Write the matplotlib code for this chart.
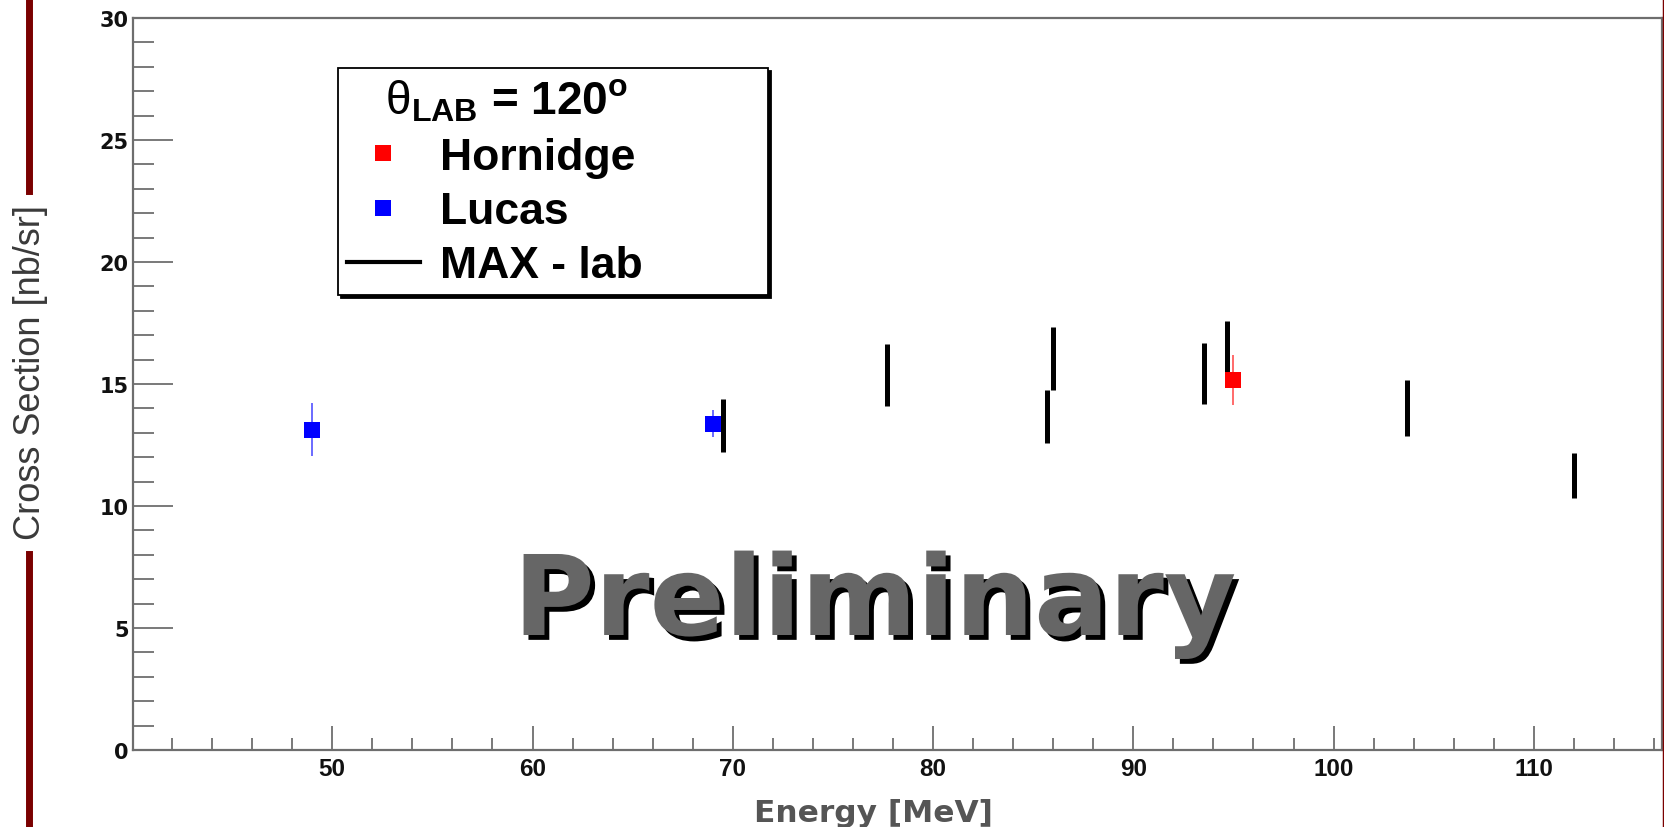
"""Compton cross section at theta_lab = 120 deg: MAX-lab points vs earlier data."""

import matplotlib

matplotlib.use("Agg")

import matplotlib.patheffects as pe
import matplotlib.pyplot as plt
from matplotlib import font_manager
from matplotlib.lines import Line2D

# --- data -------------------------------------------------------------------
lucas_energy = [49.0, 69.0]
lucas_xs = [13.13, 13.38]
lucas_err = [1.08, 0.57]

hornidge_energy = [95.0]
hornidge_xs = [15.16]
hornidge_err = [1.03]

maxlab_energy = [69.5, 77.7, 85.7, 86.0, 93.55, 94.7, 103.65, 112.0]
maxlab_xs = [13.31, 15.36, 13.67, 16.05, 15.42, 16.33, 14.02, 11.25]
maxlab_err = [1.08, 1.28, 1.10, 1.28, 1.26, 1.27, 1.14, 0.93]

x_major = [50, 60, 70, 80, 90, 100, 110]
x_minor = [e for e in range(42, 117, 2) if e % 10]
y_major = [0, 5, 10, 15, 20, 25, 30]
y_minor = [v for v in range(0, 31) if v % 5]

W, H = 1665, 828


def pick_family(*names: str) -> str:
    have = {f.name for f in font_manager.fontManager.ttflist}
    for n in names:
        if n in have:
            return n
    return "DejaVu Sans"


SANS = pick_family("Liberation Sans", "Arial")
NARROW = pick_family("Liberation Sans Narrow", "Liberation Sans")

plt.rcParams["mathtext.fontset"] = "custom"
plt.rcParams["mathtext.rm"] = SANS
plt.rcParams["mathtext.bf"] = f"{SANS}:bold"
plt.rcParams["mathtext.it"] = f"{SANS}:italic"

fig = plt.figure(figsize=(W / 100, H / 100), dpi=100)
ax = fig.add_axes([133 / W, 1 - 751 / H, (1662 - 133) / W, (751 - 19) / H])

# MAX-lab points: plain vertical error bars
ax.errorbar(
    maxlab_energy, maxlab_xs, yerr=maxlab_err, fmt="none",
    ecolor="black", elinewidth=3.6, capsize=0, zorder=2,
)
ax.errorbar(
    lucas_energy, lucas_xs, yerr=lucas_err, fmt="s", color="#0000ff",
    ms=11.5, mew=0, ecolor="#6a6aff", elinewidth=1.4, capsize=2.3,
    capthick=1.6, zorder=3,
)
ax.errorbar(
    hornidge_energy, hornidge_xs, yerr=hornidge_err, fmt="s", color="#ff0000",
    ms=11.5, mew=0, ecolor="#ff6a6a", elinewidth=1.4, capsize=2.3,
    capthick=1.6, zorder=3,
)

ax.set_xlim(40.05, 116.4)
ax.set_ylim(0, 30)
ax.set_xticks(x_major)
ax.set_xticks(x_minor, minor=True)
ax.set_yticks(y_major)
ax.set_yticks(y_minor, minor=True)

axis_gray = "#6e6e6e"
for sp in ax.spines.values():
    sp.set_color(axis_gray)
    sp.set_linewidth(1.6)

ax.tick_params(axis="both", which="both", direction="in", color=axis_gray, width=1.3,
               labelcolor="#111111")
ax.tick_params(axis="x", which="major", length=17, pad=5, labelsize=17.5,
               labelfontfamily=SANS)
ax.tick_params(axis="x", which="minor", length=8.5)
ax.tick_params(axis="y", which="major", length=29, pad=3, labelsize=15,
               labelfontfamily="DejaVu Sans")
ax.tick_params(axis="y", which="minor", length=15)
for lab in ax.get_xticklabels() + ax.get_yticklabels():
    lab.set_fontweight("bold")

# axis titles
fig.text(873 / W, 1 - 822 / H, "Energy [MeV]", ha="center", va="baseline",
         fontfamily="DejaVu Sans", fontweight="bold", fontsize=22.5, color="#555555")
fig.text(31 / W, 1 - 373 / H, "Cross Section [nb/sr]", rotation=90,
         ha="center", va="center", fontfamily=NARROW, fontsize=26, color="#3a3a3a")

# watermark
fig.text(875 / W, 1 - 636 / H, "Preliminary", ha="center", va="baseline",
         fontfamily="DejaVu Sans", fontweight="bold", fontsize=80, color="#666666",
         path_effects=[pe.SimplePatchShadow(offset=(3.5, -3.5), shadow_rgbFace="black",
                                            alpha=1.0),
                       pe.Normal()])

# legend
handles = [
    Line2D([], [], marker="s", ls="none", color="#ff0000", ms=11.5, mew=0),
    Line2D([], [], marker="s", ls="none", color="#0000ff", ms=11.5, mew=0),
    Line2D([], [], color="black", lw=3),
]
labels = ["Hornidge", "Lucas", "MAX - lab"]
leg_font = {"family": SANS, "weight": "bold", "size": 32}
title_font = {"family": SANS, "weight": "bold", "size": 33}
leg = fig.legend(
    handles, labels,
    title=r"   $\mathrm{\theta}_{\mathbf{LAB}}$ = 120$^{\mathbf{o}}$",
    title_fontproperties=title_font, prop=leg_font, alignment="left",
    loc="upper left",
    bbox_to_anchor=(338 / W, 1 - 290 / H, 430 / W, 221 / H),
    mode="expand", borderaxespad=0, borderpad=0.2, labelspacing=0.3,
    handlelength=1.64, handletextpad=0.45, fancybox=False,
    framealpha=1, edgecolor="black", shadow={"color": "black", "alpha": 1},
)
leg.get_frame().set_linewidth(1.3)

# dark red slide frame
frame_red = "#7a0000"
fig.add_artist(Line2D([29 / W, 29 / W], [1, 1 - 192 / H], color=frame_red, lw=5,
                      transform=fig.transFigure))
fig.add_artist(Line2D([29 / W, 29 / W], [1 - 555 / H, 0], color=frame_red, lw=5,
                      transform=fig.transFigure))
fig.add_artist(Line2D([1664 / W, 1664 / W], [1, 0], color=frame_red, lw=2.5,
                      transform=fig.transFigure))

fig.savefig("out.png", dpi=100)
